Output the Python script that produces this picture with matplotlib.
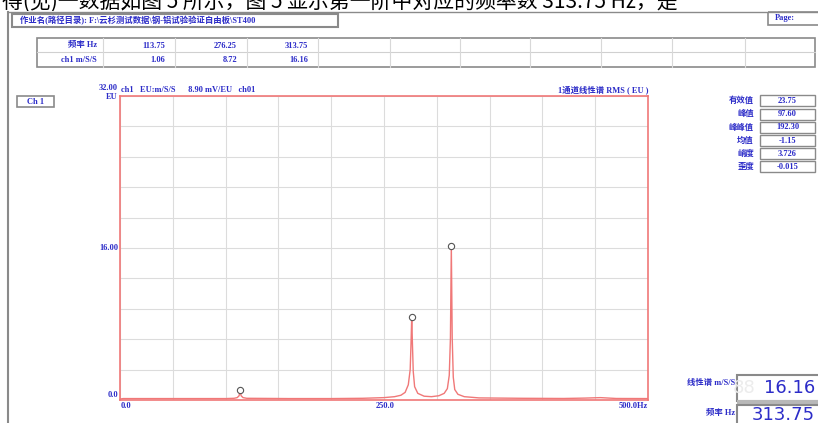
import numpy as np
import matplotlib
matplotlib.use('Agg')
import matplotlib.pyplot as plt
from matplotlib.patches import Rectangle

plt.rcParams['font.family'] = ['Liberation Serif', 'Noto Sans CJK SC', 'DejaVu Sans']

# peaks picked by the analyser
peak_freq = [113.75, 276.25, 313.75]
peak_amp = [1.06, 8.72, 16.16]

# linear spectrum, ch1 (Hz, EU)
freq = [0, 3, 20, 60, 100, 108, 111, 112.8, 113.75, 114.7, 116.5, 120, 160, 200,
        230, 250, 260, 266, 270, 273, 274.8, 275.6, 276.25, 276.9, 277.7, 279,
        282, 288, 295, 302, 307, 310, 311.8, 312.9, 313.75, 314.6, 315.6, 317,
        320, 326, 340, 380, 420, 440, 455, 470, 500]
amp = [0.1, 0.15, 0.15, 0.15, 0.15, 0.18, 0.25, 0.45, 1.06, 0.45, 0.25, 0.18, 0.15, 0.15,
       0.18, 0.25, 0.35, 0.5, 0.8, 1.6, 3.2, 6.0, 8.72, 6.0, 3.0, 1.4,
       0.7, 0.4, 0.35, 0.45, 0.7, 1.2, 2.6, 6.5, 16.16, 6.5, 2.4, 1.1,
       0.6, 0.35, 0.22, 0.18, 0.16, 0.2, 0.25, 0.16, 0.15]

table_rows = ['频率 Hz', 'ch1 m/S/S']
table_vals = [['113.75', '276.25', '313.75'], ['1.06', '8.72', '16.16']]

stat_names = ['有效值', '峰值', '峰峰值', '均值', '峭度', '歪度']
stat_vals = ['23.75', '97.60', '192.30', '-1.15', '3.726', '-0.015']

W, H = 818, 423
blue = '#2c2cc8'
red = '#f07878'
grey = '#8a8a8a'

fig = plt.figure(figsize=(W / 100, H / 100), dpi=100)
fig.patch.set_facecolor('white')

# pixel-space canvas for the report frame
bg = fig.add_axes([0, 0, 1, 1])
bg.set_xlim(0, W)
bg.set_ylim(H, 0)
bg.axis('off')

bt = dict(color=blue, fontsize=6, fontweight='bold')

# text line of the page above the screenshot (only its lower half shows)
bg.text(2, 9, '得(见)一数据如图 5 所示，图 5 显示第一阶中对应的频率数 313.75 Hz，是',
        fontsize=15, color='black', va='baseline', ha='left', zorder=1,
        family=['Noto Sans CJK SC', 'DejaVu Sans'])
bg.add_patch(Rectangle((0, 11), W, 16, fc='white', ec='none', zorder=1.5))

# outer frame
bg.plot([8, 8], [12, H], color=grey, lw=1.5, zorder=2)
bg.plot([8, W], [12, 12], color=grey, lw=1.0, zorder=2)

bg.add_patch(Rectangle((12, 14), 326, 13, fill=False, ec=grey, lw=1.5, zorder=2))
bg.text(20, 20.5, '作业名(路径目录): F:\\云杉测试数据\\钢-铝试验验证自由板\\ST400',
        va='center', ha='left', zorder=3, **bt)
bg.add_patch(Rectangle((768, 12), 52, 13, fill=False, ec=grey, lw=1.2, zorder=2))
bg.text(775, 18.5, 'Page:', va='center', ha='left', zorder=3, **bt)

# peak table
tx = [37, 103, 175, 247, 318, 390, 460, 530, 601, 672, 745, 815]
bg.add_patch(Rectangle((37, 38), 778, 29, fill=False, ec=grey, lw=1.2))
bg.plot([37, 815], [52.5, 52.5], color='#d0d0d0', lw=0.8)
for x in tx[1:-1]:
    bg.plot([x, x], [38, 67], color='#d8d8d8', lw=0.8)
for r, name in enumerate(table_rows):
    yc = 45.5 + r * 14.5
    bg.text(97, yc, name, va='center', ha='right', **bt)
    for c, v in enumerate(table_vals[r]):
        bg.text(tx[c + 2] - 10, yc, v, va='center', ha='right', **bt)

# channel tag and plot header
bg.add_patch(Rectangle((17, 96), 37, 11, fill=False, ec=grey, lw=1.2))
bg.text(35.5, 101.5, 'Ch 1', va='center', ha='center', **bt)
bg.text(121, 90, 'ch1   EU:m/S/S      8.90 mV/EU   ch01', va='center', ha='left', **bt)
bg.text(648, 90, '1通道线性谱 RMS ( EU )', va='center', ha='right', **bt)

# axis labels drawn in page units
bg.text(118, 88, '32.00', va='center', ha='right', **bt)
bg.text(118, 97, 'EU', va='center', ha='right', **bt)
bg.text(118, 248, '16.00', va='center', ha='right', **bt)
bg.text(118, 395, '0.0', va='center', ha='right', **bt)
bg.text(121, 406, '0.0', va='center', ha='left', **bt)
bg.text(385, 406, '250.0', va='center', ha='center', **bt)
bg.text(648, 406, '500.0Hz', va='center', ha='right', **bt)

# statistics panel
for i, (n, v) in enumerate(zip(stat_names, stat_vals)):
    yc = 101 + i * 13.2
    bg.text(754, yc, n, va='center', ha='right', **bt)
    bg.add_patch(Rectangle((760, yc - 5.5), 55, 11, fill=False, ec=grey, lw=1.0))
    bg.text(787.5, yc, v, va='center', ha='center', **bt)

# cursor readout
bg.text(735, 383, '线性谱 m/S/S', va='center', ha='right', **bt)
bg.text(735, 413, '频率 Hz', va='center', ha='right', **bt)
bg.add_patch(Rectangle((737, 375), 85, 26, fc='white', ec=grey, lw=1.5))
bg.add_patch(Rectangle((737, 400), 85, 5, fc='#b8b8b8', ec='none'))
bg.add_patch(Rectangle((737, 405), 85, 22, fc='white', ec=grey, lw=1.5))
lcd = dict(fontsize=13, family='Liberation Sans Narrow', va='center', ha='right')
bg.text(756, 388, '88', color='#ececec', **lcd)
bg.text(815, 388, '%.2f' % peak_amp[2], color=blue, **lcd)
bg.text(815, 415, '%.2f' % peak_freq[2], color=blue, **lcd)

# spectrum
ax = fig.add_axes([120 / W, (H - 400) / H, 528 / W, 304 / H])
ax.plot(freq, amp, color=red, lw=1.0)
ax.plot(peak_freq, peak_amp, 'o', ms=4.5, mfc='white', mec='#555555', mew=0.8)
ax.set_xlim(0, 500)
ax.set_ylim(0, 32)
ax.set_xticks(np.arange(0, 501, 50))
ax.set_yticks(np.arange(0, 32.1, 3.2))
ax.grid(True, color='#dcdcdc', lw=0.8)
ax.tick_params(length=0, labelbottom=False, labelleft=False)
for s in ax.spines.values():
    s.set_color(red)
    s.set_linewidth(1.2)

fig.savefig('out.png', dpi=100)
